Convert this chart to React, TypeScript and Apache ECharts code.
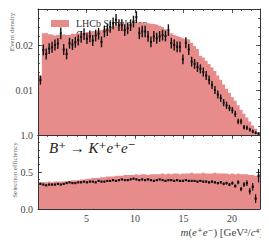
import React, { useEffect, useRef } from 'react';
import * as echarts from 'echarts';

const binEdges = [0.1,0.4,0.7,1.0,1.3,1.6,1.9,2.2,2.5,2.8,3.1,3.4,3.7,4.0,4.3,4.6,4.9,5.2,5.5,5.8,6.1,6.4,6.7,7.0,7.3,7.6,7.9,8.2,8.5,8.8,9.1,9.4,9.7,10.0,10.3,10.6,10.9,11.2,11.5,11.8,12.1,12.4,12.7,13.0,13.3,13.6,13.9,14.2,14.5,14.8,15.1,15.4,15.7,16.0,16.3,16.6,16.9,17.2,17.5,17.8,18.1,18.4,18.7,19.0,19.3,19.6,19.9,20.2,20.5,20.8,21.1,21.4,21.7,22.0,22.3,22.6,22.9];

// top panel: simulated histogram (filled)
const simDensity = [0.0132,0.0226,0.0227,0.0224,0.0223,0.0221,0.0223,0.0222,0.0224,0.0222,0.0223,0.0225,0.0224,0.0226,0.0227,0.0226,0.0229,0.0228,0.0231,0.0230,0.0233,0.0234,0.0236,0.0238,0.0240,0.0241,0.0243,0.0244,0.0246,0.0245,0.0247,0.0248,0.0249,0.0250,0.0249,0.0250,0.0248,0.0249,0.0247,0.0246,0.0245,0.0243,0.0240,0.0235,0.0230,0.0226,0.0223,0.0220,0.0218,0.0215,0.0213,0.0212,0.0205,0.0198,0.0191,0.0176,0.0172,0.0165,0.0158,0.0150,0.0142,0.0132,0.0123,0.0112,0.0103,0.0094,0.0084,0.0076,0.0066,0.0056,0.0047,0.0039,0.0030,0.0021,0.0014,0.0006];
// top panel: points with error bars
const dataDensity = [0.0122,0.0189,0.0180,0.0192,0.0195,0.0200,0.0203,0.0226,0.0190,0.0180,0.0204,0.0201,0.0206,0.0211,0.0218,0.0224,0.0214,0.0219,0.0210,0.0221,0.0225,0.0207,0.0230,0.0233,0.0240,0.0248,0.0256,0.0244,0.0244,0.0233,0.0237,0.0244,0.0252,0.0262,0.0226,0.0230,0.0230,0.0219,0.0207,0.0219,0.0215,0.0219,0.0222,0.0220,0.0233,0.0204,0.0200,0.0196,0.0196,0.0168,0.0205,0.0190,0.0163,0.0158,0.0151,0.0147,0.0140,0.0132,0.0122,0.0111,0.0100,0.0090,0.0082,0.0072,0.0066,0.0060,0.0055,0.0047,0.0030,0.0030,0.0017,0.0016,0.0012,0.0008,0.0005,0.0003];
const dataDensityErr = [0.0010,0.0012,0.0012,0.0012,0.0012,0.0012,0.0012,0.0013,0.0012,0.0012,0.0012,0.0012,0.0012,0.0012,0.0013,0.0013,0.0012,0.0013,0.0012,0.0013,0.0013,0.0012,0.0013,0.0013,0.0013,0.0013,0.0013,0.0013,0.0013,0.0013,0.0013,0.0013,0.0013,0.0013,0.0013,0.0013,0.0013,0.0012,0.0012,0.0012,0.0012,0.0012,0.0012,0.0012,0.0013,0.0012,0.0012,0.0012,0.0012,0.0011,0.0012,0.0012,0.0011,0.0011,0.0011,0.0010,0.0010,0.0010,0.0010,0.0009,0.0009,0.0009,0.0008,0.0008,0.0008,0.0007,0.0007,0.0007,0.0006,0.0006,0.0005,0.0005,0.0004,0.0004,0.0003,0.0003];

// bottom panel: efficiency
const simEfficiency = [0.36,0.36,0.36,0.37,0.36,0.37,0.37,0.37,0.37,0.38,0.38,0.39,0.39,0.39,0.40,0.40,0.41,0.41,0.42,0.42,0.42,0.43,0.43,0.44,0.44,0.44,0.45,0.45,0.45,0.46,0.46,0.46,0.46,0.47,0.46,0.47,0.47,0.46,0.47,0.47,0.47,0.47,0.48,0.47,0.48,0.47,0.48,0.48,0.47,0.48,0.48,0.48,0.49,0.48,0.48,0.48,0.49,0.48,0.48,0.48,0.49,0.48,0.48,0.48,0.48,0.47,0.48,0.47,0.48,0.47,0.47,0.47,0.46,0.46,0.45,0.45];
const dataEfficiency = [0.34,0.33,0.32,0.33,0.33,0.33,0.34,0.33,0.34,0.35,0.36,0.35,0.35,0.36,0.36,0.37,0.36,0.37,0.37,0.36,0.38,0.37,0.37,0.38,0.38,0.39,0.38,0.39,0.40,0.39,0.39,0.40,0.41,0.40,0.39,0.40,0.39,0.40,0.39,0.38,0.39,0.40,0.39,0.38,0.39,0.39,0.38,0.39,0.38,0.38,0.39,0.38,0.38,0.38,0.37,0.38,0.37,0.37,0.36,0.37,0.36,0.35,0.36,0.34,0.35,0.33,0.35,0.31,0.36,0.27,0.33,0.35,0.24,0.30,0.14,0.45];
const dataEfficiencyErr = [0.012,0.010,0.010,0.010,0.010,0.010,0.010,0.010,0.010,0.010,0.010,0.010,0.010,0.010,0.010,0.010,0.010,0.010,0.010,0.010,0.010,0.010,0.010,0.010,0.010,0.010,0.010,0.010,0.010,0.010,0.010,0.010,0.010,0.010,0.010,0.010,0.010,0.010,0.010,0.010,0.010,0.010,0.010,0.010,0.010,0.011,0.011,0.011,0.011,0.011,0.012,0.012,0.012,0.012,0.013,0.013,0.013,0.014,0.014,0.015,0.015,0.016,0.017,0.018,0.019,0.020,0.022,0.024,0.027,0.030,0.034,0.040,0.045,0.050,0.060,0.090];

const xTickLabels = [5, 10, 15, 20];
const topYTickValues = [0.01, 0.02];
const topYTickLabels = ['0.01', '0.02'];
const botYTickValues = [0, 0.5, 1.0];
const botYTickLabels = ['0.0', '0.5', '1.0'];

const FILL = '#e88b8b';
const AX = '#333333';
const FONT = 'Liberation Serif, DejaVu Serif, serif';

function makeX(gridIndex: number, pos: 'top' | 'bottom', interval: number, len: number, showLine: boolean, labels: boolean) {
  return {
    type: 'value', gridIndex, position: pos, min: 0, max: 22.9, interval,
    axisLine: { show: showLine, onZero: false, lineStyle: { color: AX, width: 1 } },
    axisTick: { show: true, inside: true, length: len, lineStyle: { color: AX, width: 0.8 } },
    axisLabel: {
      show: labels, margin: 4, fontFamily: FONT, fontSize: 10, color: '#444',
      showMinLabel: false, showMaxLabel: false,
      formatter: (v: number) => (xTickLabels.indexOf(v) >= 0 ? String(v) : ''),
    },
    splitLine: { show: false },
  };
}

function makeY(gridIndex: number, pos: 'left' | 'right', max: number, interval: number, len: number, showLine: boolean, labelVals: number[] | null, labelTexts: string[] | null) {
  return {
    type: 'value', gridIndex, position: pos, min: 0, max, interval,
    axisLine: { show: showLine, onZero: false, lineStyle: { color: AX, width: 1 } },
    axisTick: { show: true, inside: true, length: len, lineStyle: { color: AX, width: 0.8 } },
    axisLabel: {
      show: !!labelVals, margin: 5, fontFamily: FONT, fontSize: 10, color: '#444',
      showMinLabel: true, showMaxLabel: true,
      formatter: (v: number) => {
        if (!labelVals || !labelTexts) return '';
        for (let i = 0; i < labelVals.length; i++) if (Math.abs(v - labelVals[i]) < 1e-9) return labelTexts[i];
        return '';
      },
    },
    splitLine: { show: false },
  };
}

function errorBarSeries(xIdx: number, yIdx: number, vals: number[], errs: number[], barW: number, mk: number) {
  const data = vals.map((v, i) => [(binEdges[i] + binEdges[i + 1]) / 2, v, errs[i]]);
  return {
    type: 'custom', xAxisIndex: xIdx, yAxisIndex: yIdx, z: 5, clip: true,
    encode: { x: 0, y: 1 },
    data,
    renderItem: (params: any, api: any) => {
      const x = api.value(0), y = api.value(1), e = api.value(2);
      const t = api.coord([x, y + e]);
      const b = api.coord([x, y - e]);
      const c = api.coord([x, y]);
      return {
        type: 'group',
        children: [
          { type: 'line', shape: { x1: t[0], y1: t[1], x2: b[0], y2: b[1] }, style: { stroke: '#111', lineWidth: barW } },
          { type: 'rect', shape: { x: c[0] - mk / 2, y: c[1] - mk / 2, width: mk, height: mk }, style: { fill: '#111' } },
        ],
      };
    },
  };
}

function stepArea(xIdx: number, yIdx: number, vals: number[]) {
  return {
    type: 'line', xAxisIndex: xIdx, yAxisIndex: yIdx, step: 'end', symbol: 'none', z: 2,
    lineStyle: { width: 0, opacity: 0 },
    areaStyle: { color: FILL, opacity: 1 },
    data: binEdges.map((e, i) => [e, vals[Math.min(i, vals.length - 1)]]),
  };
}

export default function App() {
  const ref = useRef<HTMLDivElement>(null);
  useEffect(() => {
    if (!ref.current) return;
    const chart = echarts.init(ref.current, null, { renderer: 'svg' });
    const option: any = {
      animation: false,
      grid: [
        { left: 38, right: 9, top: 9, height: 126, outerBoundsMode: 'none', containLabel: false },
        { left: 38, right: 9, top: 135, height: 74, outerBoundsMode: 'none', containLabel: false },
      ],
      xAxis: [
        makeX(0, 'bottom', 5, 4, true, false),
        makeX(0, 'bottom', 1, 2, false, false),
        makeX(0, 'top', 5, 4, true, false),
        makeX(0, 'top', 1, 2, false, false),
        makeX(1, 'bottom', 5, 4, true, true),
        makeX(1, 'bottom', 1, 2, false, false),
        makeX(1, 'top', 5, 4, true, false),
        makeX(1, 'top', 1, 2, false, false),
      ],
      yAxis: [
        makeY(0, 'left', 0.028, 0.01, 4, true, topYTickValues, topYTickLabels),
        makeY(0, 'left', 0.028, 0.002, 2, false, null, null),
        makeY(0, 'right', 0.028, 0.01, 4, true, null, null),
        makeY(0, 'right', 0.028, 0.002, 2, false, null, null),
        makeY(1, 'left', 1, 0.5, 4, true, botYTickValues, botYTickLabels),
        makeY(1, 'left', 1, 0.1, 2, false, null, null),
        makeY(1, 'right', 1, 0.5, 4, true, null, null),
        makeY(1, 'right', 1, 0.1, 2, false, null, null),
      ],
      series: [
        stepArea(0, 0, simDensity),
        errorBarSeries(0, 0, dataDensity, dataDensityErr, 1.4, 2),
        stepArea(4, 4, simEfficiency),
        errorBarSeries(4, 4, dataEfficiency, dataEfficiencyErr, 1.2, 2.2),
      ],
      graphic: [
        { type: 'rect', z: 0, shape: { x: 51, y: 20, width: 18, height: 7 }, style: { fill: FILL } },
        { type: 'text', z: 0, x: 76, y: 23, style: { text: 'LHCb Simulation', font: `10px ${FONT}`, fill: '#333', verticalAlign: 'middle' } },
        { type: 'text', z: 0, x: 76, y: 34, style: { text: 'Generator level', font: `10px ${FONT}`, fill: '#333', verticalAlign: 'middle' } },
        {
          type: 'text', z: 10, x: 49, y: 148,
          style: {
            text: '{i|B}⁺ → {i|K}⁺{i|e}⁺{i|e}⁻', font: `15px ${FONT}`, fill: '#222', verticalAlign: 'middle',
            rich: { i: { fontStyle: 'italic', fontSize: 15, fontFamily: FONT } },
          },
        },
        {
          type: 'text', z: 10, x: 263, y: 232,
          style: {
            text: '{i|m}({i|e}⁺{i|e}⁻) [GeV²/{i|c}⁴]', font: `11px ${FONT}`, fill: '#444', align: 'right', verticalAlign: 'middle',
            rich: { i: { fontStyle: 'italic', fontSize: 11, fontFamily: FONT } },
          },
        },
        {
          type: 'text', z: 10, x: 12, y: 32, rotation: Math.PI / 2,
          style: { text: 'Event density', font: `7px ${FONT}`, fill: '#666', align: 'center', verticalAlign: 'middle' },
        },
        {
          type: 'text', z: 10, x: 15, y: 170, rotation: Math.PI / 2,
          style: { text: 'Selection efficiency', font: `7px ${FONT}`, fill: '#666', align: 'center', verticalAlign: 'middle' },
        },
      ],
    };
    chart.setOption(option);
    return () => chart.dispose();
  }, []);
  return <div ref={ref} style={{ width: 269, height: 244, marginLeft: -8, marginTop: -8 }} />;
}
